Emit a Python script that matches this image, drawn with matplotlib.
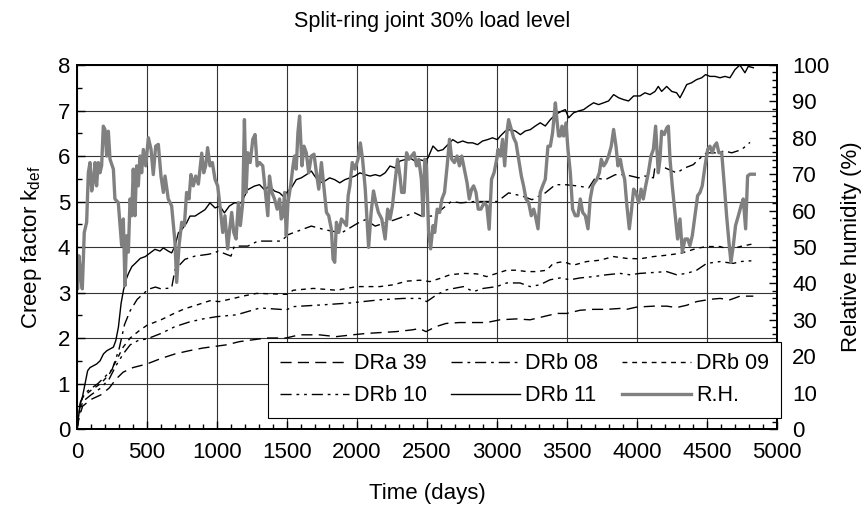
import matplotlib

matplotlib.use("Agg")
import matplotlib.pyplot as plt
from matplotlib.ticker import MultipleLocator

plt.rcParams["font.family"] = ["Liberation Sans", "DejaVu Sans"]
plt.rcParams["mathtext.fontset"] = "custom"
plt.rcParams["mathtext.rm"] = "Liberation Sans"
plt.rcParams["mathtext.it"] = "Liberation Sans"

TITLE = "Split-ring joint 30% load level"

# creep factor k_def (days, value)
drb11_days = [0, 22, 38, 57, 76, 93, 117, 141, 165, 189, 213, 237, 260, 277, 296, 315, 332, 349,
              368, 392, 416, 452, 488, 535, 557, 593, 617, 652, 676, 700, 724, 748, 783, 807,
              843, 879, 914, 950, 986, 1021, 1053, 1088, 1124, 1172, 1220, 1268, 1304, 1339,
              1375, 1411, 1447, 1471, 1495, 1531, 1566, 1602, 1638, 1674, 1698, 1734, 1770,
              1805, 1841, 1877, 1913, 1949, 1985, 2021, 2059, 2094, 2130, 2165, 2201, 2236,
              2271, 2307, 2342, 2378, 2413, 2448, 2484, 2507, 2543, 2578, 2614, 2649, 2684,
              2720, 2755, 2791, 2826, 2861, 2897, 2932, 2968, 3003, 3024, 3060, 3095, 3131,
              3167, 3202, 3238, 3274, 3309, 3345, 3381, 3417, 3440, 3464, 3488, 3512, 3547,
              3583, 3619, 3655, 3690, 3726, 3762, 3797, 3833, 3869, 3904, 3940, 3976, 4021,
              4057, 4093, 4129, 4152, 4176, 4212, 4248, 4283, 4307, 4331, 4355, 4390, 4426,
              4462, 4490, 4521, 4557, 4593, 4628, 4664, 4700, 4735, 4771, 4795, 4831]
drb11_k = [0, 0.54, 0.69, 0.99, 1.28, 1.35, 1.39, 1.43, 1.5, 1.65, 1.72, 1.76, 1.8, 1.94, 2.24,
           2.76, 3.05, 3.27, 3.42, 3.57, 3.64, 3.75, 3.79, 3.9, 3.95, 3.91, 3.98, 3.91, 3.87,
           4.02, 4.31, 4.38, 4.53, 4.68, 4.68, 4.75, 4.82, 4.97, 4.86, 4.9, 4.75, 4.9, 4.97,
           4.97, 5.26, 5.34, 5.37, 5.26, 5.34, 5.23, 5.19, 5.12, 5.19, 5.3, 5.48, 5.52, 5.59,
           5.67, 5.56, 5.41, 5.45, 5.52, 5.48, 5.41, 5.48, 5.52, 5.56, 5.63, 5.59, 5.56, 5.59,
           5.56, 5.63, 5.78, 5.74, 5.89, 5.92, 5.96, 5.89, 5.92, 5.89, 5.96, 6.22, 6.11, 6.14,
           6.25, 6.36, 6.29, 6.33, 6.29, 6.29, 6.25, 6.33, 6.36, 6.4, 6.36, 6.44, 6.55, 6.58,
           6.55, 6.47, 6.55, 6.58, 6.66, 6.73, 6.66, 6.8, 6.91, 6.95, 6.99, 7.02, 6.84, 6.95,
           6.99, 7.02, 7.1, 7.17, 7.13, 7.17, 7.21, 7.35, 7.28, 7.24, 7.21, 7.32, 7.32, 7.39,
           7.35, 7.42, 7.53, 7.42, 7.53, 7.42, 7.39, 7.28, 7.42, 7.57, 7.61, 7.68, 7.72, 7.79,
           7.75, 7.75, 7.72, 7.75, 7.72, 7.9, 8.0, 7.83, 7.97, 7.94]

drb08_days = [0, 25, 60, 150, 250, 300, 340, 380, 430, 509, 560, 600, 676, 700, 771, 843, 938,
              981, 1009, 1100, 1124, 1220, 1292, 1459, 1507, 1674, 1770, 1889, 2009, 2059, 2130,
              2200, 2271, 2342, 2413, 2460, 2531, 2602, 2673, 2743, 2838, 2932, 3003, 3083,
              3179, 3250, 3345, 3417, 3488, 3583, 3655, 3702, 3774, 3845, 3916, 4012, 4057,
              4117, 4129, 4200, 4283, 4343, 4402, 4438, 4497, 4557, 4628, 4676, 4747, 4807]
drb08_k = [0, 0.6, 0.8, 1.0, 1.3, 1.75, 2.3, 2.6, 2.85, 3.07, 3.12, 3.08, 3.1, 3.5, 3.73, 3.8,
           3.84, 3.87, 3.91, 3.8, 4.02, 4.02, 4.13, 4.13, 4.27, 4.46, 4.38, 4.31, 4.53, 4.6,
           4.46, 4.53, 4.6, 4.68, 4.75, 4.68, 4.68, 4.82, 5.0, 4.97, 5.0, 5.0, 5.0, 5.19, 5.12,
           5.04, 5.19, 5.37, 5.37, 5.34, 5.3, 5.52, 5.48, 5.59, 5.59, 5.52, 5.56, 5.52, 5.78,
           5.74, 5.63, 5.74, 5.81, 5.92, 6.07, 6.07, 6.11, 6.07, 6.14, 6.3]

drb09_days = [0, 15, 40, 100, 170, 230, 280, 330, 380, 440, 500, 600, 700, 767, 850, 950, 1016,
              1117, 1200, 1283, 1400, 1497, 1545, 1688, 1855, 1998, 2164, 2260, 2355, 2450,
              2521, 2593, 2664, 2760, 2855, 2926, 2998, 3069, 3140, 3212, 3283, 3355, 3402,
              3474, 3545, 3640, 3736, 3831, 3926, 4021, 4117, 4212, 4307, 4355, 4426, 4498,
              4593, 4664, 4736, 4831]
drb09_k = [0, 0.4, 0.7, 0.85, 1.0, 1.2, 1.5, 1.8, 2.0, 2.15, 2.28, 2.4, 2.55, 2.64, 2.72, 2.82,
           2.8, 2.87, 2.93, 2.98, 2.97, 2.96, 3.05, 3.09, 3.05, 3.13, 3.13, 3.17, 3.25, 3.27,
           3.24, 3.31, 3.39, 3.42, 3.41, 3.35, 3.42, 3.49, 3.49, 3.46, 3.46, 3.49, 3.64, 3.68,
           3.6, 3.68, 3.71, 3.79, 3.75, 3.74, 3.79, 3.82, 3.86, 3.9, 3.97, 4.01, 4.01, 3.94,
           4.01, 4.07]

drb10_days = [0, 15, 40, 100, 170, 230, 280, 330, 380, 440, 500, 600, 700, 800, 900, 1000,
              1140, 1307, 1497, 1545, 1760, 1950, 2164, 2331, 2450, 2498, 2569, 2640, 2760,
              2831, 2902, 2998, 3069, 3164, 3236, 3307, 3379, 3450, 3521, 3593, 3688, 3783,
              3879, 3950, 4021, 4117, 4212, 4283, 4355, 4426, 4498, 4593, 4688, 4736, 4831]
drb10_k = [0, 0.3, 0.6, 0.75, 0.9, 1.1, 1.4, 1.65, 1.85, 1.95, 1.98, 2.1, 2.25, 2.35, 2.42,
           2.47, 2.51, 2.66, 2.62, 2.69, 2.73, 2.77, 2.84, 2.87, 2.87, 2.8, 2.95, 3.06, 3.13,
           3.02, 3.09, 3.13, 3.21, 3.21, 3.13, 3.17, 3.28, 3.32, 3.28, 3.32, 3.35, 3.39, 3.42,
           3.39, 3.42, 3.44, 3.46, 3.39, 3.42, 3.49, 3.64, 3.68, 3.64, 3.68, 3.7]

dra39_days = [0, 15, 40, 100, 170, 230, 280, 330, 400, 500, 600, 700, 800, 900, 1067, 1160,
              1255, 1350, 1493, 1588, 1731, 1850, 1969, 2064, 2278, 2397, 2445, 2493, 2564,
              2636, 2731, 2926, 3021, 3140, 3236, 3331, 3426, 3498, 3593, 3688, 3783, 3879,
              3926, 3998, 4117, 4212, 4283, 4355, 4426, 4521, 4593, 4664, 4736, 4831]
dra39_k = [0, 0.25, 0.5, 0.65, 0.75, 0.9, 1.1, 1.25, 1.35, 1.43, 1.55, 1.65, 1.72, 1.78, 1.85,
           1.92, 1.96, 2.0, 2.0, 2.07, 2.07, 2.03, 2.07, 2.1, 2.14, 2.18, 2.21, 2.14, 2.25,
           2.32, 2.34, 2.34, 2.4, 2.42, 2.4, 2.47, 2.54, 2.54, 2.61, 2.63, 2.63, 2.65, 2.63,
           2.68, 2.7, 2.7, 2.67, 2.72, 2.8, 2.85, 2.87, 2.84, 2.92, 2.92]

# relative humidity (%) on the right axis
rh_days = [0, 5, 14, 29, 38, 52, 69, 81, 93, 105, 117, 129, 140, 152, 164, 176, 188, 200, 212,
           224, 236, 260, 271, 295, 319, 331, 343, 355, 367, 379, 391, 402, 414, 426, 438, 450,
           462, 474, 491, 510, 529, 545, 562, 581, 600, 617, 629, 652, 676, 700, 712, 729, 748,
           767, 783, 800, 814, 831, 848, 867, 891, 905, 919, 933, 950, 967, 986, 1005, 1024,
           1041, 1057, 1076, 1088, 1105, 1120, 1136, 1153, 1167, 1184, 1196, 1208, 1220, 1237,
           1256, 1272, 1287, 1304, 1327, 1344, 1363, 1375, 1392, 1411, 1430, 1447, 1459, 1471,
           1483, 1495, 1507, 1526, 1543, 1554, 1566, 1578, 1590, 1607, 1621, 1638, 1655, 1674,
           1693, 1710, 1727, 1746, 1765, 1782, 1798, 1817, 1829, 1841, 1853, 1870, 1889, 1908,
           1925, 1937, 1949, 1966, 1985, 2007, 2024, 2040, 2059, 2083, 2101, 2118, 2135, 2153,
           2177, 2201, 2219, 2236, 2253, 2271, 2290, 2307, 2319, 2337, 2354, 2371, 2389, 2408,
           2425, 2441, 2460, 2472, 2484, 2496, 2512, 2526, 2543, 2555, 2573, 2590, 2607, 2625,
           2644, 2661, 2677, 2696, 2715, 2732, 2748, 2767, 2786, 2802, 2819, 2833, 2850, 2866,
           2885, 2909, 2927, 2944, 2961, 2979, 2998, 3007, 3024, 3040, 3055, 3071, 3083, 3102,
           3119, 3136, 3155, 3174, 3190, 3207, 3226, 3245, 3262, 3274, 3293, 3309, 3326, 3345,
           3364, 3381, 3397, 3417, 3428, 3440, 3452, 3464, 3476, 3493, 3507, 3524, 3540, 3559,
           3578, 3595, 3612, 3631, 3650, 3666, 3683, 3697, 3714, 3731, 3745, 3762, 3778, 3797,
           3816, 3833, 3850, 3864, 3881, 3893, 3912, 3928, 3945, 3959, 3976, 3992, 4012, 4029,
           4045, 4062, 4081, 4100, 4117, 4133, 4152, 4164, 4176, 4195, 4212, 4224, 4236, 4252,
           4271, 4290, 4307, 4324, 4343, 4362, 4378, 4395, 4414, 4433, 4450, 4466, 4486, 4505,
           4521, 4538, 4552, 4569, 4585, 4605, 4624, 4640, 4657, 4671, 4688, 4704, 4724, 4743,
           4759, 4776, 4790, 4807, 4838]
rh_values = [38.5, 38.5, 47.6, 41.3, 38.5, 54, 56.8, 70.4, 73.2, 65.4, 68.2, 73.2, 66.8, 73.2,
             70.4, 72.3, 83.2, 82.3, 75, 81.8, 74.1, 71.4, 63.2, 62.2, 50.4, 57.7, 39.4, 53.1,
             48.6, 63.2, 58.6, 71.4, 58.6, 72.3, 66.8, 75, 70.4, 76.8, 72.3, 80, 76.8, 69.9,
             77.7, 78.2, 69.5, 65, 69.5, 63.2, 61.3, 51.3, 40.3, 50.4, 56.8, 55.9, 65, 63.2,
             69.9, 66.8, 69.5, 67.3, 75.8, 70.4, 72.3, 77.3, 72.3, 73.2, 68.6, 66.8, 60.4, 54,
             58.6, 49.5, 54, 59.5, 54, 52.2, 62.2, 55.9, 62.2, 85, 65, 75.9, 73.2, 79.6, 80.9,
             72.3, 73.2, 72.3, 65.9, 58.6, 69.5, 65, 63.2, 60.4, 63.2, 57.7, 58.6, 65, 53.1,
             62.2, 66.8, 72.3, 75, 71.4, 81.4, 86, 72.3, 77.7, 75.9, 70.4, 75, 75.5, 70.4, 65.9,
             73.2, 65.9, 59.5, 58.6, 54.9, 46.7, 45.8, 56.8, 54, 57.7, 56.8, 55.9, 64.1, 66.8,
             73.2, 71.4, 74.1, 78.6, 74.1, 65.9, 49.9, 59.5, 65.4, 62.2, 59.5, 57.7, 52.2, 60.4,
             57.7, 61.3, 67.7, 74.1, 69.5, 65, 65, 75.9, 74.1, 75, 75.9, 72.3, 74.1, 68.6, 58.6,
             74.1, 72.3, 54, 49.5, 55.9, 54, 60.4, 59.5, 63.2, 65, 72.3, 79.6, 74.1, 73.2, 75,
             72.3, 75, 71.4, 67.7, 63.2, 65.9, 66.8, 65, 60.4, 60.4, 62.2, 61.3, 54.9, 68.6,
             70.4, 74.1, 76.8, 75, 79.6, 72.3, 81.4, 85, 82.3, 80, 78.6, 74.1, 69.5, 66.8, 63.2,
             62.2, 58.6, 60.4, 58.6, 55, 65, 66.8, 68.6, 77.7, 77.7, 81.4, 89.6, 85, 80.5, 80.5,
             83.2, 80.5, 84.1, 76.8, 70.4, 60.4, 58.6, 58.6, 63.2, 59.5, 58.6, 55, 63.2, 66.8,
             67.7, 68.6, 70.4, 74.1, 72.3, 73.2, 75, 77.7, 82.3, 77.7, 72.3, 74.1, 71.4, 68.6,
             61.3, 55, 59.5, 65.9, 65, 62.2, 65.9, 63.2, 66.8, 70.4, 75, 76.8, 83.2, 70.4, 74.1,
             81.8, 80.9, 82.7, 83.2, 74.1, 66.8, 59.5, 52.2, 57.7, 48.6, 52.2, 52.2, 50.4, 53.1,
             58.6, 64.1, 65, 66.8, 72.3, 76.8, 77.7, 75.9, 77.7, 78.6, 75.9, 75.9, 66.8, 58.6,
             51.3, 45.8, 50.4, 55.9, 58.6, 61.3, 63.2, 55, 69.5, 70, 70]

RH_COLOR = "#808080"
GRID_COLOR = "#333333"
FONT_SIZE = 16


def main() -> int:
    fig = plt.figure(figsize=(8.64, 5.08), dpi=100)
    ax = fig.add_axes([0.0891, 0.1555, 0.8102, 0.7165])
    ax2 = ax.twinx()

    lw = 1.0
    h_dra39, = ax.plot(dra39_days, dra39_k, color="black", lw=lw, dashes=(8, 4.5), label="DRa 39")
    h_drb08, = ax.plot(drb08_days, drb08_k, color="black", lw=lw, dashes=(8, 3.5, 2, 3.5), label="DRb 08")
    h_drb09, = ax.plot(drb09_days, drb09_k, color="black", lw=lw, dashes=(3.5, 3.5), label="DRb 09")
    h_drb10, = ax.plot(drb10_days, drb10_k, color="black", lw=lw,
                       dashes=(8, 3.5, 2, 3.5, 2, 3.5), label="DRb 10")
    h_drb11, = ax.plot(drb11_days, drb11_k, color="black", lw=lw, label="DRb 11")
    h_rh, = ax2.plot(rh_days, rh_values, color=RH_COLOR, lw=2.4, label="R.H.",
                     solid_joinstyle="round")

    ax.set_xlim(0, 5000)
    ax.set_ylim(0, 8)
    ax2.set_ylim(0, 100)
    ax.xaxis.set_major_locator(MultipleLocator(500))
    ax.xaxis.set_minor_locator(MultipleLocator(100))
    ax.yaxis.set_major_locator(MultipleLocator(1))
    ax.yaxis.set_minor_locator(MultipleLocator(0.5))
    ax2.yaxis.set_major_locator(MultipleLocator(10))
    ax2.yaxis.set_minor_locator(MultipleLocator(2))

    ax.grid(True, which="major", color=GRID_COLOR, lw=0.8)
    ax.set_axisbelow(True)

    for a in (ax, ax2):
        a.tick_params(which="major", direction="in", length=6, width=1.0,
                      labelsize=FONT_SIZE)
        a.tick_params(which="minor", direction="in", length=3.5, width=1.0)
        for spine in a.spines.values():
            spine.set_linewidth(1.4)
    ax.tick_params(axis="x", pad=9)
    ax.tick_params(axis="y", pad=5)
    ax2.tick_params(axis="y", pad=11)

    ax.set_xlabel("Time (days)", fontsize=FONT_SIZE, labelpad=15)
    ax.set_ylabel(r"Creep factor k$_{\mathrm{def}}$", fontsize=FONT_SIZE, labelpad=10)
    ax2.set_ylabel("Relative humidity (%)", fontsize=FONT_SIZE, labelpad=8)
    fig.text(0.5, 0.957, TITLE, ha="center", va="center", fontsize=15.5)

    handles = [h_dra39, h_drb10, h_drb08, h_drb11, h_drb09, h_rh]
    leg = ax2.legend(handles=handles, labels=[h.get_label() for h in handles],
                     loc="lower left", bbox_to_anchor=(0.273, 0.030, 0.733, 0.204),
                     mode="expand", ncol=3, fontsize=15.5, frameon=True, fancybox=False,
                     edgecolor="black", framealpha=1, handlelength=3.2, handletextpad=0.25,
                     borderaxespad=0, columnspacing=0.5, borderpad=0.55, labelspacing=0.5)
    leg.get_frame().set_linewidth(0.8)

    fig.savefig("out.png", dpi=100)
    plt.close(fig)
    return 0


if __name__ == "__main__":
    raise SystemExit(main())
